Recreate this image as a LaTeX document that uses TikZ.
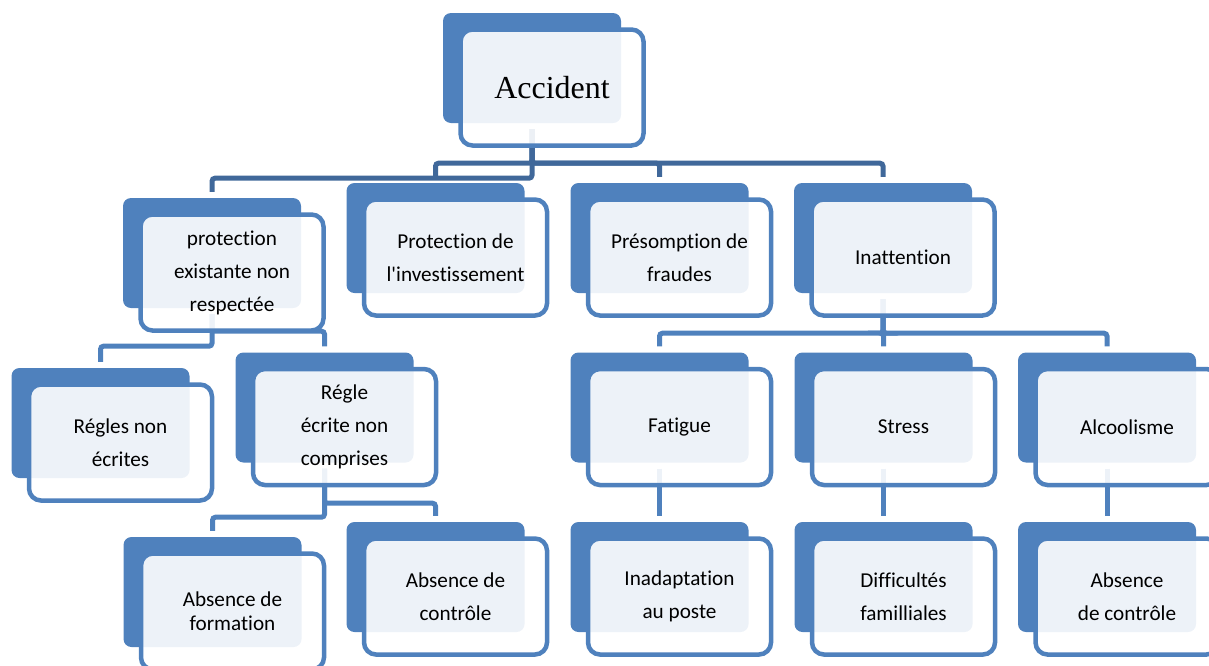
\documentclass[tikz,border=0pt]{standalone}
\usepackage{fontspec}
\setmainfont{Carlito}[Ligatures={TeXOff,NoCommon}]
\newfontfamily\headfont{Liberation Serif}
\usetikzlibrary{calc,backgrounds}
\definecolor{boxblue}{RGB}{79,129,189}
\definecolor{linkblue}{RGB}{64,104,154}

% one cause: dark tab behind, translucent framed card in front
\newcommand\causebox[4][33]{%
  \node[backbox] (#2) at (#3) {};
  \node[frontbox, font=\fontsize{21.2}{#1}\selectfont] (#2-t) at ($(#2)+(20,19.5)$) {#4};
}

\begin{document}
\begin{tikzpicture}[x=1pt,y=-1pt,
  backbox/.style={fill=boxblue, draw=none, rounded corners=8pt,
    minimum width=178pt, minimum height=110pt, inner sep=0pt},
  frontbox/.style={draw=boxblue, line width=4.5pt, fill=white,
    fill opacity=0.9, text opacity=1, rounded corners=12pt,
    minimum width=183pt, minimum height=116pt, inner sep=0pt, align=center},
  link/.style={draw=boxblue, line width=5pt, rounded corners=3pt},
  toplink/.style={link, draw=linkblue}]
\useasboundingbox (0,0) rectangle (1209,665);

% root
\node[backbox] (acc) at (532,68) {};
\node[frontbox] (acc-t) at ($(acc)+(20,19.5)$)
  {\headfont\fontsize{32}{36}\selectfont Accident};

% first level
\causebox{pe}{212,253}{protection\\existante non\\respectée}
\causebox{pi}{435.5,238}{Protection de\\l'investissement}
\causebox{pf}{659.5,238}{Présomption de\\fraudes}
\causebox{ina}{883,238}{Inattention}

% under "protection existante non respectée"
\causebox{rne}{100.5,423}{Régles non\\écrites}
\causebox{rec}{324.5,407.5}{Régle\\écrite non\\comprises}
\causebox[24]{af}{212.5,592}{Absence de\\formation}
\causebox{ac1}{435.5,577}{Absence de\\contrôle}

% under "Inattention"
\causebox{fat}{659.5,407.5}{Fatigue}
\causebox{str}{883.5,407.5}{Stress}
\causebox{alc}{1107,407.5}{Alcoolisme}
\causebox{inp}{659.5,577}{Inadaptation\\au poste}
\causebox{dif}{883.5,577}{Difficultés\\familliales}
\causebox{ac2}{1107,577}{Absence\\de contrôle}

% connectors, kept under the cards
\begin{scope}[on background layer]
  \draw[toplink] ([yshift=-6pt]acc.south) -- ++(0,49) -| ([yshift=6pt]pe.north);
  \foreach \c in {pi,pf,ina}
    \draw[toplink] ([yshift=-6pt]acc.south) -- ++(0,34) -| ([yshift=6pt]\c.north);

  \draw[link] ([yshift=-6pt]pe.south) -- ++(0,32) -| ([yshift=6pt]rne.north);
  \draw[link] ([yshift=-6pt]pe.south) -- ++(0,17) -| ([yshift=6pt]rec.north);

  \draw[link] ([yshift=-6pt]rec.south) -- ++(0,48.5) -| ([yshift=6pt]af.north);
  \draw[link] ([yshift=-6pt]rec.south) -- ++(0,34.5) -| ([yshift=6pt]ac1.north);

  \foreach \c in {fat,str,alc}
    \draw[link] ([yshift=-6pt]ina.south) -- ++(0,34) -| ([yshift=6pt]\c.north);

  \draw[link] ([yshift=-6pt]fat.south) -- ([yshift=6pt]inp.north);
  \draw[link] ([yshift=-6pt]str.south) -- ([yshift=6pt]dif.north);
  \draw[link] ([yshift=-6pt]alc.south) -- ([yshift=6pt]ac2.north);
\end{scope}
\end{tikzpicture}
\end{document}
